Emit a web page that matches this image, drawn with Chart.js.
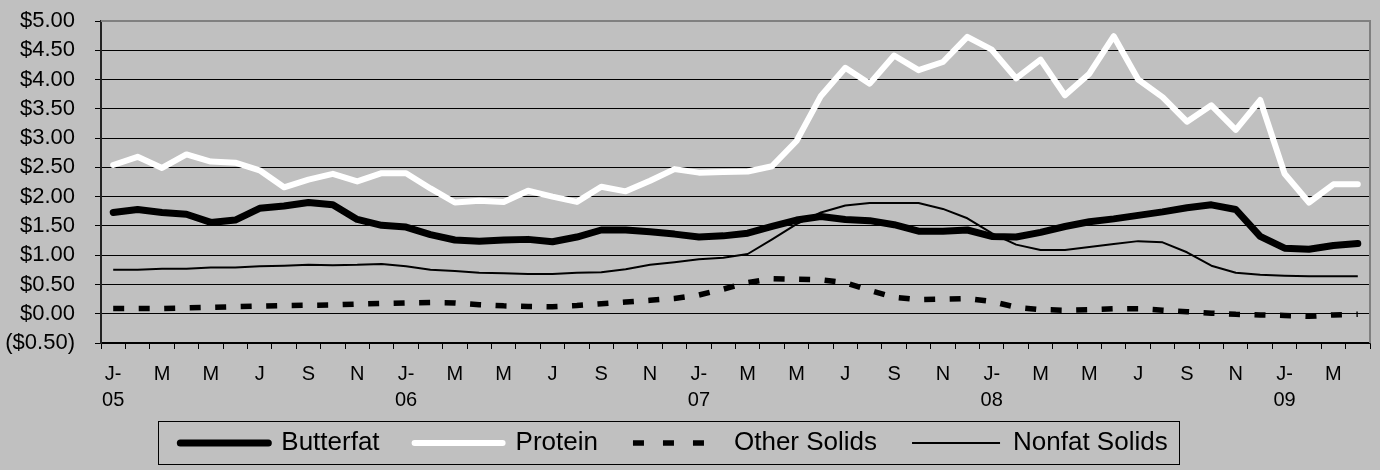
<!DOCTYPE html>
<html>
<head>
<meta charset="utf-8">
<script src="https://cdn.jsdelivr.net/npm/chart.js@4.4.0/dist/chart.umd.min.js"></script>
<style>
  html, body { margin: 0; padding: 0; background: #c0c0c0; }
  #wrap { width: 1380px; height: 470px; position: relative; }
</style>
</head>
<body>
<div id="wrap"><canvas id="componentChart"></canvas></div>
<script>
// month ticks, Jan 2005 - Apr 2009 (label every second month)
const tickLabels = [
  ['J-', '05'], '', 'M', '', 'M', '', 'J', '', 'S', '', 'N', '',
  ['J-', '06'], '', 'M', '', 'M', '', 'J', '', 'S', '', 'N', '',
  ['J-', '07'], '', 'M', '', 'M', '', 'J', '', 'S', '', 'N', '',
  ['J-', '08'], '', 'M', '', 'M', '', 'J', '', 'S', '', 'N', '',
  ['J-', '09'], '', 'M', ''
];

const butterfat = [
  1.73, 1.78, 1.73, 1.70, 1.56, 1.60, 1.80, 1.84, 1.90, 1.86, 1.61, 1.51,
  1.48, 1.35, 1.26, 1.24, 1.26, 1.27, 1.23, 1.31, 1.43, 1.43, 1.40, 1.36,
  1.31, 1.33, 1.375, 1.49, 1.60, 1.66, 1.61, 1.59, 1.52, 1.41, 1.41, 1.43,
  1.32, 1.31, 1.39, 1.49, 1.57, 1.62, 1.68, 1.74, 1.81, 1.86, 1.78, 1.32,
  1.12, 1.10, 1.165, 1.20
];

const protein = [
  2.54, 2.68, 2.49, 2.72, 2.60, 2.58, 2.45, 2.16, 2.29, 2.39, 2.26, 2.40,
  2.40, 2.14, 1.90, 1.93, 1.91, 2.10, 2.00, 1.91, 2.17, 2.09, 2.27, 2.47,
  2.41, 2.42, 2.43, 2.52, 2.95, 3.72, 4.20, 3.93, 4.41, 4.16, 4.30, 4.73,
  4.51, 4.02, 4.34, 3.73, 4.10, 4.74, 4.00, 3.70, 3.28, 3.56, 3.14, 3.65,
  2.39, 1.90, 2.21, 2.21
];

const otherSolids = [
  0.09, 0.09, 0.09, 0.10, 0.11, 0.12, 0.13, 0.14, 0.145, 0.15, 0.165, 0.175,
  0.185, 0.19, 0.185, 0.155, 0.135, 0.125, 0.12, 0.14, 0.17, 0.20, 0.23, 0.26,
  0.32, 0.42, 0.53, 0.60, 0.59, 0.58, 0.53, 0.40, 0.28, 0.24, 0.25, 0.26,
  0.21, 0.11, 0.07, 0.06, 0.07, 0.085, 0.085, 0.06, 0.035, 0.01, -0.01, -0.02,
  -0.03, -0.045, -0.02, -0.01
];

const nonfatSolids = [
  0.75, 0.75, 0.77, 0.77, 0.79, 0.79, 0.81, 0.82, 0.835, 0.83, 0.835, 0.85,
  0.81, 0.75, 0.73, 0.70, 0.69, 0.68, 0.68, 0.70, 0.71, 0.76, 0.835, 0.88,
  0.93, 0.955, 1.02, 1.27, 1.53, 1.73, 1.85, 1.89, 1.89, 1.89, 1.79, 1.63,
  1.375, 1.18, 1.09, 1.09, 1.14, 1.19, 1.24, 1.22, 1.05, 0.82, 0.70, 0.665,
  0.65, 0.64, 0.64, 0.64
];

const yMin = -0.5;
const yMax = 5;
const yStep = 0.5;

const FONTE = "'Liberation Sans', Arial, sans-serif";

function formatDolar(v) {
  const s = '$' + Math.abs(v).toFixed(2);
  return v < 0 ? '(' + s + ')' : s;
}

// gray frame on top and right of the plot
const plotBorder = {
  id: 'plotBorder',
  beforeDatasetsDraw(chart) {
    const { ctx, chartArea: a } = chart;
    ctx.save();
    ctx.strokeStyle = '#808080';
    ctx.lineWidth = 2;
    ctx.beginPath();
    ctx.moveTo(a.left, a.top);
    ctx.lineTo(a.right, a.top);
    ctx.lineTo(a.right, a.bottom);
    ctx.stroke();
    ctx.restore();
  }
};

// let the x labels run below the axis box, shift legend left, box around legend
const legendFrame = {
  id: 'legendFrame',
  afterLayout(chart) {
    const xs = chart.scales.x;
    xs.bottom = xs.top + 75;
    xs.height = 75;
    chart.legend.left -= 11;
    chart.legend.right -= 11;
  },
  afterDraw(chart) {
    const lg = chart.legend;
    const ctx = chart.ctx;
    const pad = lg.options.labels.padding;
    const start = (lg.left + pad + lg.right - lg.lineWidths[0]) / 2;
    const end = start + lg.lineWidths[0] - pad;
    const mid = lg.top + pad + 13;
    ctx.save();
    ctx.strokeStyle = '#000';
    ctx.lineWidth = 1;
    ctx.strokeRect(Math.round(start - 22) + 0.5, Math.round(mid - 22) + 0.5, Math.round(end - start + 34), 43);
    ctx.restore();
  }
};

document.addEventListener('DOMContentLoaded', function() {
  const ctx = document.getElementById('componentChart');

  new Chart(ctx.getContext('2d'), {
    type: 'line',
    data: {
      labels: tickLabels,
      datasets: [
        {
          label: 'Butterfat',
          data: butterfat,
          borderColor: '#000',
          backgroundColor: '#000',
          borderWidth: 7,
          borderCapStyle: 'round',
          borderJoinStyle: 'round',
          pointRadius: 0,
          order: 4
        },
        {
          label: 'Protein',
          data: protein,
          borderColor: '#fff',
          backgroundColor: '#fff',
          borderWidth: 6,
          borderCapStyle: 'round',
          borderJoinStyle: 'round',
          pointRadius: 0,
          order: 3
        },
        {
          label: 'Other Solids',
          data: otherSolids,
          borderColor: '#000',
          backgroundColor: '#000',
          borderWidth: 5.5,
          borderDash: [11, 14.5],
          borderCapStyle: 'butt',
          pointRadius: 0,
          order: 2
        },
        {
          label: 'Nonfat Solids',
          data: nonfatSolids,
          borderColor: '#000',
          backgroundColor: '#000',
          borderWidth: 2,
          borderJoinStyle: 'round',
          pointRadius: 0,
          order: 1
        }
      ]
    },
    options: {
      responsive: true,
      maintainAspectRatio: false,
      animation: false,
      events: [],
      layout: {
        padding: { top: 21, right: 10, bottom: 4, left: 0 }
      },
      scales: {
        x: {
          offset: true,
          grid: {
            offset: true,
            drawOnChartArea: false,
            drawTicks: true,
            tickLength: 6,
            color: '#000',
            lineWidth: 1
          },
          border: { display: true, color: '#000', width: 1.5 },
          ticks: {
            autoSkip: false,
            maxRotation: 0,
            minRotation: 0,
            padding: 12,
            color: '#000',
            font: { family: FONTE, size: 20, lineHeight: 1.3 }
          },
          afterFit: function(axis) {
            axis.height = 52;
          }
        },
        y: {
          min: yMin,
          max: yMax,
          ticks: {
            stepSize: yStep,
            autoSkip: false,
            padding: 20,
            color: '#000',
            font: { family: FONTE, size: 22 },
            callback: function(value) {
              return formatDolar(value);
            }
          },
          grid: {
            color: '#000',
            lineWidth: 1,
            tickLength: 6,
            tickColor: '#000'
          },
          border: { display: true, color: '#222', width: 2 },
          afterFit: function(axis) {
            axis.width = 101;
            axis.paddingTop = 13;
            axis.paddingBottom = 13;
          }
        }
      },
      plugins: {
        legend: {
          position: 'bottom',
          labels: {
            usePointStyle: true,
            pointStyle: 'line',
            pointStyleWidth: 88,
            padding: 35,
            color: '#000',
            font: { family: FONTE, size: 26 },
            sort: function(a, b) {
              return a.datasetIndex - b.datasetIndex;
            },
            generateLabels: function(chart) {
              const itens = Chart.defaults.plugins.legend.labels.generateLabels(chart);
              return itens.map(function(item) {
                const ds = chart.data.datasets[item.datasetIndex];
                item.lineDash = ds.borderDash ? [11, 19] : [];
                item.lineCap = ds.borderCapStyle || 'butt';
                item.lineWidth = ds.borderWidth;
                return item;
              });
            }
          }
        },
        tooltip: { enabled: false }
      }
    },
    plugins: [plotBorder, legendFrame]
  });
});
</script>
</body>
</html>
